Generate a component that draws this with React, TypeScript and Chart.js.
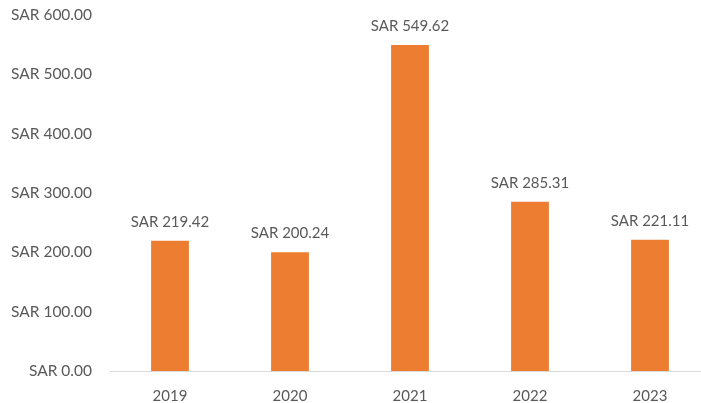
import React, { useEffect, useRef } from "react";
import { Chart, registerables } from "chart.js";

Chart.register(...registerables);

const categories = ["2019", "2020", "2021", "2022", "2023"];
const values = [219.42, 200.24, 549.62, 285.31, 221.11];
const yTickValues = [0, 100, 200, 300, 400, 500, 600];

const fmt = (v: number) => "SAR " + v.toFixed(2);
const FONT = "Lato, 'Noto Sans', sans-serif";
const TEXT = "#595959";

const labelPlugin = {
  id: "barLabels",
  afterDatasetsDraw(chart: any) {
    const ctx = chart.ctx;
    const meta = chart.getDatasetMeta(0);
    ctx.save();
    ctx.font = `15px ${FONT}`;
    ctx.fillStyle = TEXT;
    ctx.textAlign = "center";
    ctx.textBaseline = "middle";
    meta.data.forEach((el: any, i: number) => {
      ctx.fillText(fmt(values[i]), el.x, el.y - 19);
    });
    ctx.restore();
  },
};

export default function App() {
  const ref = useRef<HTMLCanvasElement>(null);
  useEffect(() => {
    if (!ref.current) return;
    const chart = new Chart(ref.current, {
      type: "bar",
      data: {
        labels: categories,
        datasets: [
          {
            data: values,
            backgroundColor: "#ED7D31",
            borderWidth: 0,
            categoryPercentage: 1,
            barPercentage: 0.315,
          },
        ],
      },
      options: {
        animation: false,
        responsive: false,
        maintainAspectRatio: false,
        layout: { padding: { top: 15, right: 0, bottom: 0, left: 0 } },
        plugins: { legend: { display: false }, tooltip: { enabled: false } },
        scales: {
          x: {
            grid: { display: false, drawTicks: false },
            border: { display: true, color: "#d9d9d9", width: 1 },
            ticks: { color: TEXT, font: { size: 15, family: FONT }, padding: 16 },
            afterFit: (s: any) => {
              s.height = 32;
              s.paddingLeft = 0;
              s.paddingRight = 0;
            },
          },
          y: {
            min: 0,
            max: 600,
            grid: { display: false, drawTicks: false },
            border: { display: false },
            afterBuildTicks: (s: any) => {
              s.ticks = yTickValues.map((v) => ({ value: v }));
            },
            ticks: {
              color: TEXT,
              font: { size: 15.5, family: FONT },
              padding: 18,
              callback: (v: any) => fmt(Number(v)),
            },
            afterFit: (s: any) => {
              s.width = 110;
              s.paddingTop = 0;
              s.paddingBottom = 0;
            },
          },
        },
      },
      plugins: [labelPlugin],
    });
    return () => chart.destroy();
  }, []);
  return (
    <div
      style={{
        position: "fixed",
        left: 0,
        top: 0,
        width: 701,
        height: 403,
        overflow: "hidden",
        background: "#fff",
      }}
    >
      <canvas ref={ref} width={710} height={403} style={{ display: "block" }} />
    </div>
  );
}
